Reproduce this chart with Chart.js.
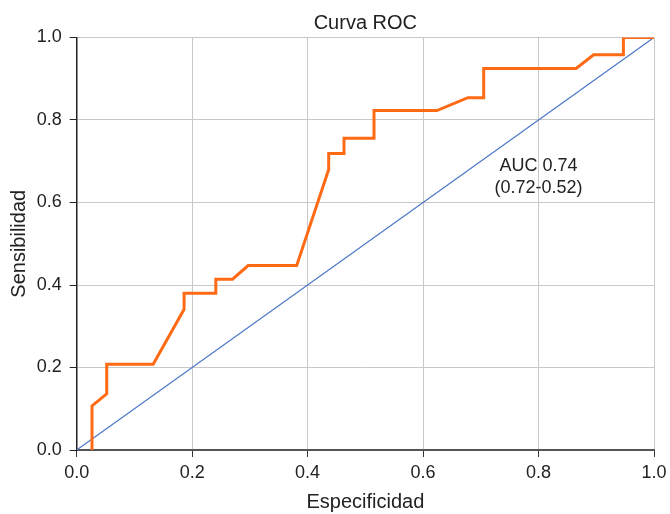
<!DOCTYPE html>
<html>
<head>
<meta charset="utf-8">
<script src="https://cdn.jsdelivr.net/npm/chart.js@4"></script>
<style>
  html, body { margin: 0; padding: 0; background: #fff; }
  #wrap { width: 670px; height: 514px; }
</style>
</head>
<body>
<div id="wrap"><canvas id="roc" width="670" height="514"></canvas></div>
<script>
// ROC curve points (1 - especificidad, sensibilidad)
const rocX = [0.0265, 0.0265, 0.052, 0.052, 0.1325, 0.186, 0.186, 0.241, 0.241, 0.270, 0.297, 0.381,
              0.4365, 0.4365, 0.463, 0.463, 0.515, 0.515, 0.624, 0.6775, 0.705, 0.705, 0.865, 0.8955,
              0.947, 0.947, 1.0];
const rocY = [0.0, 0.107, 0.136, 0.208, 0.208, 0.341, 0.380, 0.380, 0.414, 0.414, 0.447, 0.447,
              0.680, 0.719, 0.719, 0.756, 0.756, 0.823, 0.823, 0.854, 0.854, 0.925, 0.925, 0.958,
              0.958, 1.0, 1.0];
const refX = [0, 1];
const refY = [0, 1];
const tickValues = [0, 0.2, 0.4, 0.6, 0.8, 1.0];
const aucLines = ['AUC 0.74', '(0.72-0.52)'];
const aucAt = { x: 0.80, y: [0.688, 0.635] };

const FONT = '"Liberation Sans", Arial, Helvetica, sans-serif';
const TXT = '#222';

// AUC label placed in data coordinates
const aucLabel = {
  id: 'aucLabel',
  afterDatasetsDraw(chart) {
    const { ctx, scales: { x, y } } = chart;
    ctx.save();
    ctx.font = '18px ' + FONT;
    ctx.fillStyle = TXT;
    ctx.textAlign = 'center';
    ctx.textBaseline = 'middle';
    aucLines.forEach((line, i) => {
      ctx.fillText(line, x.getPixelForValue(aucAt.x), y.getPixelForValue(aucAt.y[i]));
    });
    ctx.restore();
  }
};

new Chart(document.getElementById('roc'), {
  type: 'scatter',
  data: {
    datasets: [
      {
        data: rocX.map((v, i) => ({ x: v, y: rocY[i] })),
        showLine: true,
        borderColor: '#ff6a14',
        borderWidth: 3,
        pointRadius: 0,
        tension: 0
      },
      {
        data: refX.map((v, i) => ({ x: v, y: refY[i] })),
        showLine: true,
        borderColor: '#4a78c8',
        borderWidth: 1.2,
        pointRadius: 0,
        tension: 0
      }
    ]
  },
  options: {
    responsive: false,
    animation: false,
    layout: { padding: { left: 0, right: 16, top: 0, bottom: 0 } },
    plugins: {
      legend: { display: false },
      tooltip: { enabled: false },
      title: {
        display: true,
        text: 'Curva ROC',
        fullSize: false,
        color: TXT,
        font: { family: FONT, size: 20, weight: 'normal' },
        padding: { top: 11, bottom: 2.5 }
      }
    },
    scales: {
      x: {
        type: 'linear',
        min: 0,
        max: 1,
        afterBuildTicks: s => { s.ticks = tickValues.map(v => ({ value: v })); },
        afterFit: s => { s.height = 64; s.paddingLeft = 0; s.paddingRight = 0; },
        ticks: {
          color: TXT,
          padding: 5,
          font: { family: FONT, size: 18 },
          callback: v => v.toFixed(1)
        },
        grid: { color: '#c8c8c8', lineWidth: 1, tickLength: 7, tickColor: '#333' },
        border: { color: '#555', width: 2 },
        title: {
          display: true,
          text: 'Especificidad',
          color: TXT,
          font: { family: FONT, size: 20 },
          padding: { top: 0, bottom: 0 }
        }
      },
      y: {
        type: 'linear',
        min: 0,
        max: 1,
        afterBuildTicks: s => { s.ticks = tickValues.map(v => ({ value: v })); },
        afterFit: s => { s.width = 76.7; s.paddingTop = 0; s.paddingBottom = 0; },
        ticks: {
          color: TXT,
          padding: 8,
          font: { family: FONT, size: 18 },
          callback: v => v.toFixed(1)
        },
        grid: { color: '#c8c8c8', lineWidth: 1, tickLength: 7, tickColor: '#222' },
        border: { color: '#222', width: 1.5 },
        title: {
          display: true,
          text: 'Sensibilidad',
          color: TXT,
          font: { family: FONT, size: 20 },
          padding: { top: 7.5, bottom: 0 }
        }
      }
    }
  },
  plugins: [aucLabel]
});
</script>
</body>
</html>
